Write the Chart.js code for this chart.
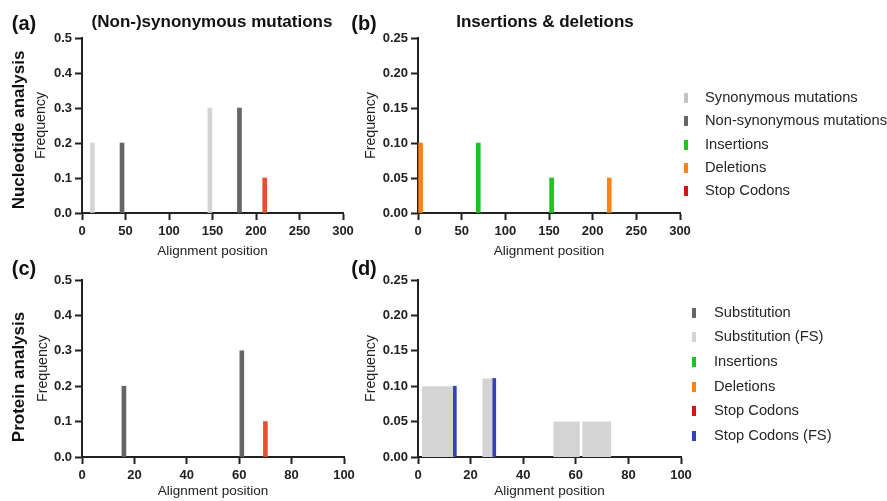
<!DOCTYPE html>
<html>
<head>
<meta charset="utf-8">
<script src="https://cdn.jsdelivr.net/npm/chart.js@4.4.1/dist/chart.umd.min.js"></script>
<style>
  body { margin: 0; background: #fff; }
  #wrap { position: relative; width: 887px; height: 501px; overflow: hidden; font-family: "Liberation Sans", Arial, sans-serif; }
  canvas { position: absolute; left: 0; top: 0; }
  .lbl { position: absolute; transform: translate(-50%, -50%); font-weight: bold; white-space: nowrap; line-height: 1; color: #111; }
  .panel { font-size: 20px; }
  .head { font-size: 17px; }
  .row { font-size: 17px; transform: translate(-50%, -50%) rotate(-90deg); }
</style>
</head>
<body>
<div id="wrap">
  <canvas id="chartA" width="887" height="501"></canvas>
  <canvas id="chartB" width="887" height="501"></canvas>
  <canvas id="chartC" width="887" height="501"></canvas>
  <canvas id="chartD" width="887" height="501"></canvas>

  <div class="lbl panel" style="left:24px; top:23px;">(a)</div>
  <div class="lbl panel" style="left:364px; top:23px;">(b)</div>
  <div class="lbl panel" style="left:24px; top:268px;">(c)</div>
  <div class="lbl panel" style="left:364px; top:268px;">(d)</div>
  <div class="lbl head" style="left:212px; top:21px;">(Non-)synonymous mutations</div>
  <div class="lbl head" style="left:545px; top:21px;">Insertions &amp; deletions</div>
  <div class="lbl row" style="left:18px; top:130px;">Nucleotide analysis</div>
  <div class="lbl row" style="left:18px; top:377px;">Protein analysis</div>
</div>
<script>
// nucleotide level, panels (a) and (b)
var synPos = [12, 147];
var synFreq = [0.2, 0.3];
var nonSynPos = [46, 181];
var nonSynFreq = [0.2, 0.3];
var nucStopPos = [210];
var nucStopFreq = [0.1];
var insPos = [69, 153];
var insFreq = [0.1, 0.05];
var delPos = [3, 219];
var delFreq = [0.1, 0.05];

// protein level, panels (c) and (d)
var subPos = [16, 61];
var subFreq = [0.2, 0.3];
var protStopPos = [70];
var protStopFreq = [0.1];
// frameshift substitutions cover a stretch of positions
var subFsStart = [1.5, 24.5, 51.5, 62.5];
var subFsEnd = [14, 29, 61.5, 73.5];
var subFsFreq = [0.1, 0.111, 0.05, 0.05];
var stopFsPos = [14, 29];
var stopFsFreq = [0.1, 0.111];

// legends
var nucLegendLabels = ['Synonymous mutations', 'Non-synonymous mutations', 'Insertions', 'Deletions', 'Stop Codons'];
var protLegendLabels = ['Substitution', 'Substitution (FS)', 'Insertions', 'Deletions', 'Stop Codons', 'Stop Codons (FS)'];

var lightGrey = '#d4d4d4';
var darkGrey = '#666666';
var green = '#1fc41f';
var orange = '#ff8214';
var stopRed = '#e6502e';
var legendRed = '#d41515';
var blue = '#3443b8';

var nucLegendColors = ['#c4c4c4', darkGrey, green, orange, legendRed];
var protLegendColors = [darkGrey, lightGrey, green, orange, legendRed, blue];

Chart.defaults.font.family = '"Liberation Sans", Arial, sans-serif';
Chart.defaults.color = '#222';

// legend drawn next to the right hand panels
var sideLegend = {
    id: 'sideLegend',
    afterDraw: function(chart, args, opts) {
        if (!opts.labels) return;
        var ctx = chart.ctx;
        ctx.save();
        ctx.font = '14.7px "Liberation Sans", Arial, sans-serif';
        ctx.textBaseline = 'middle';
        for (var i = 0; i < opts.labels.length; i++) {
            var y = Math.round(opts.y + i * opts.gap);
            ctx.fillStyle = opts.colors[i];
            ctx.fillRect(opts.x, y - 5, 4, 10);
            ctx.fillStyle = '#262626';
            ctx.fillText(opts.labels[i], opts.textX, y);
        }
        ctx.restore();
    }
};

function bars(label, pos, freq, color, width) {
    return {
        type: 'bar',
        label: label,
        data: pos.map(function(x, i) { return {x: x, y: freq[i]}; }),
        backgroundColor: color,
        barThickness: width || 4,
        grouped: false,
        borderWidth: 0,
        order: 0
    };
}

function blocks(label, starts, ends, freq, color) {
    var pts = [];
    for (var i = 0; i < starts.length; i++) {
        pts.push({x: starts[i], y: 0}, {x: starts[i], y: freq[i]}, {x: ends[i], y: freq[i]}, {x: ends[i], y: 0});
    }
    return {
        type: 'line',
        label: label,
        data: pts,
        backgroundColor: color,
        borderColor: 'rgba(0,0,0,0)',
        borderWidth: 0,
        pointRadius: 0,
        tension: 0,
        fill: 'origin',
        order: 5
    };
}

function makeChart(id, datasets, o) {
    var axisGrid = { offset: false, drawOnChartArea: false, tickLength: 7, tickWidth: 2, tickColor: '#222' };
    var axisBorder = { color: '#222', width: 2 };
    var tickFont = { size: 13, weight: 'bold' };
    return new Chart(document.getElementById(id), {
        type: 'bar',
        data: { datasets: datasets },
        options: {
            responsive: false,
            animation: false,
            layout: { padding: o.padding },
            plugins: {
                legend: { display: false },
                sideLegend: o.legend || {}
            },
            scales: {
                x: {
                    type: 'linear',
                    min: 0,
                    max: o.xMax,
                    offset: false,
                    ticks: { stepSize: o.xStep, padding: 4, font: tickFont, color: '#222', maxRotation: 0 },
                    grid: axisGrid,
                    border: axisBorder,
                    title: { display: true, text: 'Alignment position', font: { size: 13.5 }, color: '#222', padding: { top: 0, bottom: 0 } },
                    afterFit: function(s) { s.height = o.xH; }
                },
                y: {
                    min: 0,
                    max: o.yMax,
                    ticks: {
                        stepSize: o.yStep, padding: 3, font: tickFont, color: '#222',
                        callback: function(v) { return v.toFixed(o.dec); }
                    },
                    grid: axisGrid,
                    border: axisBorder,
                    title: { display: true, text: 'Frequency', font: { size: 14.2 }, color: '#222', padding: { top: o.yTitlePad, bottom: 0 } },
                    afterFit: function(s) { s.width = 60; }
                }
            }
        },
        plugins: [sideLegend]
    });
}

makeChart('chartA', [
    bars('Synonymous mutations', synPos, synFreq, lightGrey),
    bars('Non-synonymous mutations', nonSynPos, nonSynFreq, darkGrey),
    bars('Stop Codons', nucStopPos, nucStopFreq, stopRed)
], { padding: { left: 22, right: 544, top: 38, bottom: 242 }, xMax: 300, xStep: 50, yMax: 0.5, yStep: 0.1, dec: 1, xH: 46, yTitlePad: 11 });

makeChart('chartB', [
    bars('Insertions', insPos, insFreq, green),
    bars('Deletions', delPos, delFreq, orange)
], { padding: { left: 358, right: 207, top: 38, bottom: 242 }, xMax: 300, xStep: 50, yMax: 0.25, yStep: 0.05, dec: 2, xH: 46, yTitlePad: 5,
     legend: { labels: nucLegendLabels, colors: nucLegendColors, x: 684, textX: 705, y: 98, gap: 23.3 } });

makeChart('chartC', [
    bars('Substitution', subPos, subFreq, darkGrey),
    bars('Stop Codons', protStopPos, protStopFreq, stopRed)
], { padding: { left: 22, right: 543, top: 280, bottom: 2 }, xMax: 100, xStep: 20, yMax: 0.5, yStep: 0.1, dec: 1, xH: 42, yTitlePad: 13 });

makeChart('chartD', [
    bars('Stop Codons (FS)', stopFsPos, stopFsFreq, blue, 3),
    blocks('Substitution (FS)', subFsStart, subFsEnd, subFsFreq, lightGrey)
], { padding: { left: 358, right: 206, top: 280, bottom: 2 }, xMax: 100, xStep: 20, yMax: 0.25, yStep: 0.05, dec: 2, xH: 42, yTitlePad: 5,
     legend: { labels: protLegendLabels, colors: protLegendColors, x: 692, textX: 714, y: 312.5, gap: 24.7 } });
</script>
</body>
</html>
